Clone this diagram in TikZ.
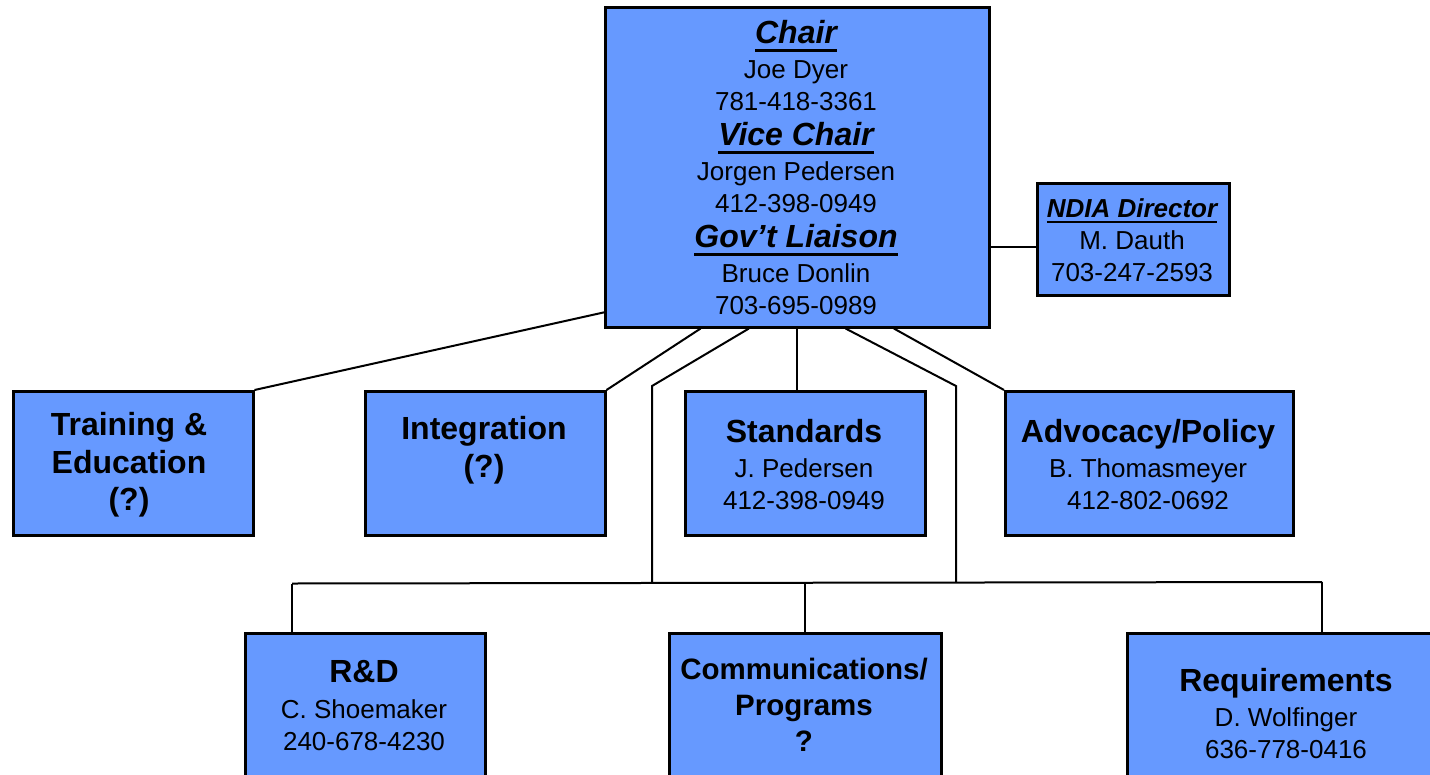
\documentclass[tikz,border=0pt]{standalone}
\usepackage{fontspec}
\setmainfont{Liberation Sans}
\usetikzlibrary{calc}
\definecolor{boxblue}{RGB}{102,153,255}
\newcommand\myul[1]{\setbox0\hbox{#1}\rlap{\rule[-8pt]{\wd0}{3pt}}\box0}
\newcommand\myuls[1]{\setbox0\hbox{#1}\rlap{\rule[-6pt]{\wd0}{2.5pt}}\box0}
\newcommand\ttl[1]{{\bfseries\itshape\fontsize{32}{32}\selectfont\myul{#1}}}
\newcommand\hd[1]{{\bfseries\fontsize{32}{32}\selectfont #1}}
\begin{document}
\begin{tikzpicture}[x=1pt,y=-1pt,
  box/.style={draw=black, line width=2.5pt, fill=boxblue, inner sep=0pt, anchor=north west},
  lbl/.style={align=center, inner sep=0pt, font=\fontsize{26}{32}\selectfont},
  conn/.style={line width=2pt}]
\useasboundingbox (0,0) rectangle (1430,774);
% boxes
\node[box, minimum width=384pt, minimum height=320pt] (chair) at (604,6) {};
\node[box, minimum width=192pt, minimum height=112pt] (ndia) at (1036,182) {};
\node[box, minimum width=240pt, minimum height=144pt] (train) at (12,390) {};
\node[box, minimum width=240pt, minimum height=144pt] (integ) at (364,390) {};
\node[box, minimum width=240pt, minimum height=144pt] (stand) at (684,390) {};
\node[box, minimum width=288pt, minimum height=144pt] (adv) at (1004,390) {};
\node[box, minimum width=240pt, minimum height=160pt] (rd) at (244,632) {};
\node[box, minimum width=272pt, minimum height=160pt] (comm) at (668,632) {};
\node[box, minimum width=320pt, minimum height=180pt] (req) at (1126,632) {};
% texts
\node[lbl] (tchair) at (796,168) {\ttl{Chair}\\[3pt] Joe Dyer\\ 781-418-3361\\[3pt] \ttl{Vice Chair}\\[3pt] Jorgen Pedersen\\ 412-398-0949\\[3pt] \ttl{Gov’t Liaison}\\[3pt] Bruce Donlin\\ 703-695-0989};
\node[lbl] (tndia) at (1132,240) {{\bfseries\itshape\myuls{NDIA Director}}\\[0.5pt] M. Dauth\\ 703-247-2593};
\node[lbl, font=\bfseries\fontsize{32}{37.5}\selectfont] (ttrain) at (129,465) {Training \&\\Education\\(?)};
\node[lbl, font=\bfseries\fontsize{32}{38}\selectfont] (tinteg) at (484,450) {Integration\\(?)};
\node[lbl] (tstand) at (804,465) {\hd{Standards}\\[3pt] J. Pedersen\\ 412-398-0949};
\node[lbl] (tadv) at (1148,465) {\hd{Advocacy/Policy}\\[3pt] B. Thomasmeyer\\ 412-802-0692};
\node[lbl] (trd) at (364,706) {\hd{R\&D}\\[4pt] C. Shoemaker\\ 240-678-4230};
\node[lbl, font=\bfseries\fontsize{29.5}{36}\selectfont] (tcomm) at (804,705) {Communications/\\Programs\\?};
\node[lbl] (treq) at (1286,714) {\hd{Requirements}\\[3pt] D. Wolfinger\\ 636-778-0416};
% connectors
\coordinate (cl) at ($(chair.north west)!0.95!(chair.south west)$);
\coordinate (b1) at ($(chair.south west)!0.25!(chair.south east)$);
\coordinate (b2) at ($(chair.south west)!0.375!(chair.south east)$);
\coordinate (b4) at ($(chair.south west)!0.625!(chair.south east)$);
\coordinate (b5) at ($(chair.south west)!0.75!(chair.south east)$);
\coordinate (lk) at (652,386);
\coordinate (rk) at (956,386);
\coordinate (lb) at (652,583);
\coordinate (rb) at (956,582.5);
\coordinate (busl) at (292,583.5);
\coordinate (busr) at (1322,582);
\coordinate (nd) at ($(ndia.west)+(0,8)$);
\draw[conn] (cl) -- (train.north east);
\draw[conn] (b1) -- (integ.north east);
\draw[conn] (b2) -- (lk) -- (lb);
\draw[conn] (chair.south) -- (chair.south |- stand.north);
\draw[conn] (b4) -- (rk) -- (rb);
\draw[conn] (b5) -- (adv.north west);
\draw[conn] (nd) -- (nd -| chair.east);
\draw[conn] (rd.north west) ++(48,0) coordinate (rdt) (busl) -- (busr);
\draw[conn] (busl) -- (rdt);
\draw[conn] (comm.north) -- (comm.north |- busl);
\draw[conn] (busr) -- (busr |- req.north);
\end{tikzpicture}
\end{document}
